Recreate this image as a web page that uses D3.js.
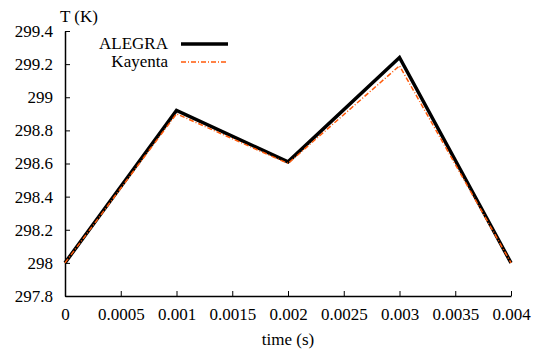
<!DOCTYPE html>
<html>
<head>
<meta charset="utf-8">
<script src="https://cdn.jsdelivr.net/npm/d3@7"></script>
<style>
  body { margin: 0; background: #fff; }
</style>
</head>
<body>
<svg id="chart" width="537" height="354"></svg>
<script>
const times = [0, 0.001, 0.002, 0.003, 0.004];
const alegra = [298.0, 298.92, 298.61, 299.24, 298.0];
const kayenta = [298.0, 298.90, 298.60, 299.19, 298.0];
const xTicks = [0, 0.0005, 0.001, 0.0015, 0.002, 0.0025, 0.003, 0.0035, 0.004];
const yTicks = [297.8, 298, 298.2, 298.4, 298.6, 298.8, 299, 299.2, 299.4];

const FONT = '"Liberation Serif"';
const svg = d3.select('#chart');
const plotLeft = 65, plotRight = 511, plotTop = 31, plotBottom = 296;

const x = d3.scaleLinear().domain([0, 0.004]).range([plotLeft, plotRight]);
const y = d3.scaleLinear().domain([297.8, 299.4]).range([plotBottom, plotTop]);

// axes (ticks point inward, like gnuplot)
const xAxis = svg.append('g')
  .attr('transform', `translate(0, ${plotBottom})`)
  .call(d3.axisBottom(x).tickValues(xTicks).tickSizeInner(-5).tickSizeOuter(0)
    .tickFormat(d => String(+d.toFixed(4))));
xAxis.selectAll('text').attr('y', 12);

const yAxis = svg.append('g')
  .attr('transform', `translate(${plotLeft}, 0)`)
  .call(d3.axisLeft(y).tickValues(yTicks).tickSizeInner(-5).tickSizeOuter(0)
    .tickFormat(d => String(+d.toFixed(1))));
yAxis.selectAll('text').attr('x', -12);

svg.selectAll('.tick text')
  .style('font-family', FONT).style('font-size', '17px').attr('fill', '#000');
svg.selectAll('.domain').attr('stroke', '#000').attr('stroke-width', 1.5);
svg.selectAll('.tick line').attr('stroke', '#000');

// axis titles
svg.append('text').attr('x', 60).attr('y', 22)
  .style('font-family', FONT).style('font-size', '17px').text('T (K)');
svg.append('text').attr('x', 288).attr('y', 345).attr('text-anchor', 'middle')
  .style('font-family', FONT).style('font-size', '17px').text('time (s)');

const line = d3.line().x(d => x(d[0])).y(d => y(d[1]));

svg.append('path')
  .datum(times.map((t, i) => [t, alegra[i]]))
  .attr('d', line)
  .attr('fill', 'none')
  .attr('stroke', '#000')
  .attr('stroke-width', 3.5)
  .attr('stroke-linejoin', 'miter');

svg.append('path')
  .datum(times.map((t, i) => [t, kayenta[i]]))
  .attr('d', line)
  .attr('fill', 'none')
  .attr('stroke', '#ff5a0a')
  .attr('stroke-width', 1.5)
  .attr('stroke-dasharray', '5,2,1,2');

// legend
const legend = svg.append('g');
legend.append('text').attr('x', 168).attr('y', 49).attr('text-anchor', 'end')
  .style('font-family', FONT).style('font-size', '17px').text('ALEGRA');
legend.append('line').attr('x1', 181).attr('x2', 228).attr('y1', 44).attr('y2', 44)
  .attr('stroke', '#000').attr('stroke-width', 3.5);
legend.append('text').attr('x', 168).attr('y', 67).attr('text-anchor', 'end')
  .style('font-family', FONT).style('font-size', '17px').text('Kayenta');
legend.append('line').attr('x1', 181).attr('x2', 228).attr('y1', 62).attr('y2', 62)
  .attr('stroke', '#ff5a0a').attr('stroke-width', 1.5).attr('stroke-dasharray', '5,2,1,2');
</script>
</body>
</html>
